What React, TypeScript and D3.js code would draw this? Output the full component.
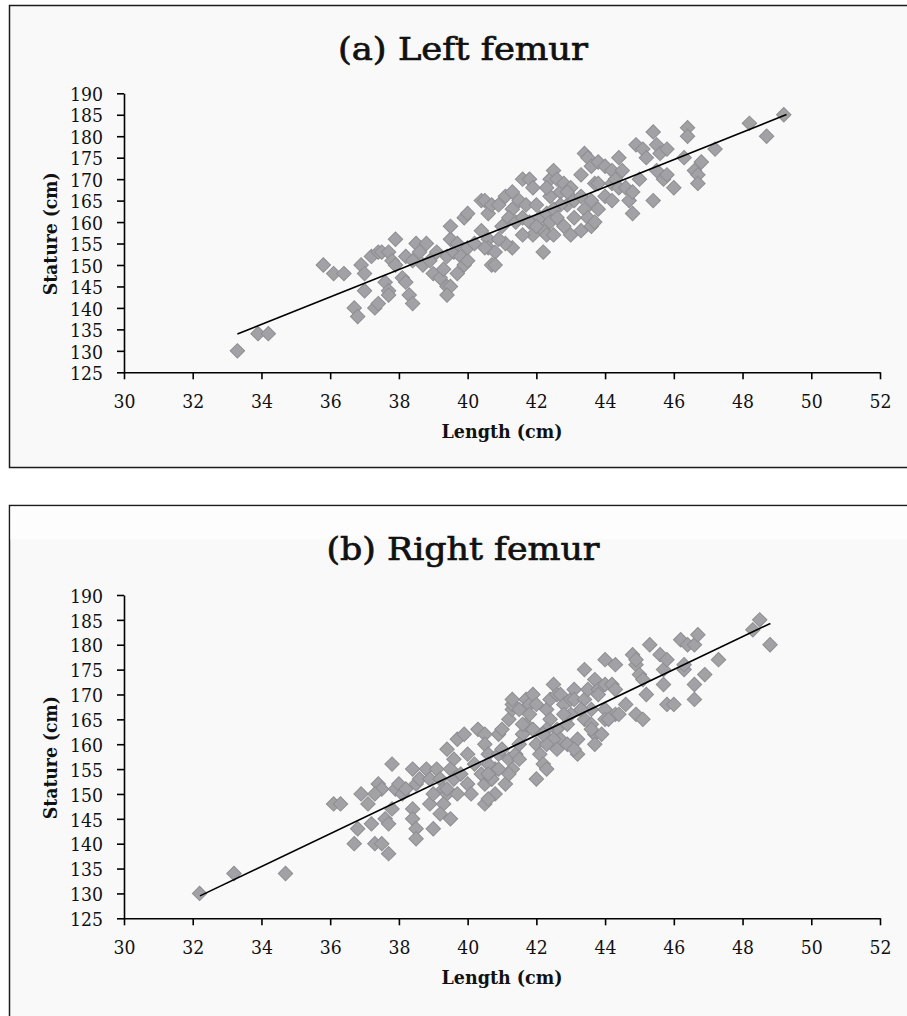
import React, { useEffect, useRef } from "react";
import * as d3 from "d3";

// axis ticks
const xTicks = [30, 32, 34, 36, 38, 40, 42, 44, 46, 48, 50, 52];
const yTicks = [125, 130, 135, 140, 145, 150, 155, 160, 165, 170, 175, 180, 185, 190];

// [length (cm), stature (cm)]
const leftFemur: [number, number][] = [
  [33.3, 130], [33.9, 134], [34.2, 134],
  [35.8, 150], [36.1, 148], [36.4, 148],
  [36.7, 140], [36.8, 138], [36.9, 150], [37.0, 148], [37.0, 144], [37.2, 152], [37.3, 140], [37.4, 141],
  [37.4, 153], [37.5, 153], [37.7, 153], [37.6, 146], [37.7, 144], [37.7, 143], [37.8, 151], [37.9, 150],
  [37.9, 156], [38.1, 147], [38.2, 146], [38.3, 143], [38.4, 141], [38.2, 152], [38.4, 151], [38.5, 155],
  [38.6, 153], [38.7, 150], [38.8, 155], [38.9, 151], [39.0, 148], [39.1, 153], [39.2, 147], [39.3, 149],
  [39.4, 152], [39.6, 153], [39.8, 152], [39.5, 156], [39.7, 155], [39.5, 159], [39.4, 145], [39.5, 145],
  [39.4, 143], [39.7, 148], [39.9, 150], [40.0, 151], [40.0, 154], [40.2, 155], [39.9, 161], [40.0, 162],
  [40.4, 165], [40.6, 162], [40.4, 158], [40.6, 156], [40.6, 154], [40.7, 150], [40.8, 153], [40.8, 150],
  [40.5, 154], [40.5, 165], [40.7, 164],
  [40.9, 164], [41.1, 166], [41.3, 167], [41.3, 163], [41.5, 165], [41.6, 170], [41.8, 170], [41.9, 168],
  [41.7, 164], [42.0, 164], [42.1, 161], [42.3, 162], [42.4, 170], [42.5, 172], [42.6, 170], [42.4, 166],
  [42.7, 167], [42.8, 169], [43.0, 168], [42.9, 164], [43.1, 165], [43.3, 171], [43.4, 176], [43.5, 175],
  [43.6, 173], [43.8, 174], [44.0, 173], [43.7, 169], [43.8, 169], [44.0, 166], [43.3, 166], [43.4, 163],
  [43.5, 161], [43.3, 158], [43.6, 159], [43.7, 160], [42.2, 158], [42.3, 157], [42.2, 153], [41.9, 157],
  [41.6, 157], [41.3, 154], [41.1, 155], [40.9, 156],
  [41.2, 161], [41.0, 159], [41.4, 160], [41.6, 161], [41.8, 160], [42.0, 159], [42.4, 160], [42.7, 164],
  [42.5, 163], [43.1, 161], [42.9, 167], [44.2, 169], [43.8, 163], [43.6, 165], [42.3, 168],
  [42.8, 159], [43.0, 157], [42.5, 157], [42.6, 161],
  [44.2, 172], [44.3, 170], [44.5, 172], [44.4, 168], [44.2, 165], [44.6, 168], [44.7, 165], [44.8, 167],
  [45.0, 170], [44.8, 162], [45.4, 165], [44.9, 178], [45.1, 177], [45.2, 175], [45.4, 181], [45.5, 178],
  [45.6, 176], [45.8, 177], [45.5, 172], [45.7, 170], [46.0, 168], [45.8, 171], [46.3, 175], [46.4, 182],
  [46.4, 180], [46.6, 172], [46.7, 171], [44.4, 175],
  [46.7, 169], [46.8, 174], [47.2, 177], [48.2, 183], [48.7, 180], [49.2, 185],
];

const rightFemur: [number, number][] = [
  [32.2, 130], [33.2, 134], [34.7, 134],
  [36.1, 148], [36.3, 148], [36.7, 140], [36.8, 143], [36.9, 150], [37.1, 148], [37.2, 144], [37.3, 140],
  [37.5, 140], [37.4, 152], [37.5, 151], [37.3, 150], [37.6, 145], [37.7, 144], [37.7, 138], [37.8, 156],
  [37.8, 147], [37.9, 151], [38.0, 152], [38.1, 150], [38.2, 151], [38.4, 155], [38.5, 152], [38.4, 147],
  [38.4, 145], [38.5, 143], [38.5, 141], [38.6, 153], [38.8, 155], [38.9, 153], [38.9, 148], [39.0, 150],
  [39.0, 143], [39.1, 155], [39.2, 153], [39.3, 151], [39.4, 150], [39.3, 148], [39.2, 146], [39.5, 145],
  [39.4, 159], [39.6, 157], [39.5, 155], [39.6, 153], [39.4, 151], [39.7, 161], [39.9, 162], [40.0, 158],
  [39.8, 154], [40.0, 152], [40.1, 150], [39.7, 150], [40.3, 163], [40.5, 162], [40.5, 160], [40.6, 158],
  [40.4, 154], [40.5, 152], [40.8, 150], [40.8, 155], [40.9, 162], [40.5, 148], [40.6, 149], [40.7, 153],
  [40.9, 158], [40.6, 156],
  [41.0, 163], [41.0, 159], [41.2, 157], [41.3, 155], [41.1, 152], [41.2, 154], [40.9, 155], [41.2, 165],
  [41.3, 167], [41.3, 168], [41.3, 169], [41.5, 167], [41.4, 158], [41.5, 157], [41.6, 162], [41.7, 164],
  [41.7, 169], [41.8, 168], [41.9, 170], [42.0, 168], [41.8, 166], [41.6, 164], [41.9, 163], [42.0, 160],
  [42.1, 158], [42.2, 156], [42.0, 153], [42.3, 155], [42.3, 167], [42.4, 169], [42.5, 172], [42.6, 170],
  [42.7, 170], [42.4, 165], [42.6, 163], [42.8, 168], [42.7, 161], [42.5, 161], [42.3, 160], [42.6, 159],
  [42.9, 160], [43.0, 169], [43.1, 171], [43.1, 169], [42.9, 164], [43.0, 166], [43.2, 161], [43.2, 158],
  [43.1, 159], [43.4, 169], [43.5, 171], [43.4, 165], [43.4, 175], [43.6, 167], [43.6, 164], [43.7, 162],
  [43.7, 160], [43.6, 163], [43.7, 173], [43.8, 171], [43.9, 162], [44.0, 167], [44.0, 165], [44.0, 177],
  [44.0, 172], [44.2, 172], [44.3, 171], [44.3, 176], [44.3, 166], [44.1, 165], [44.4, 166], [44.6, 168],
  [44.8, 178], [44.9, 176], [44.9, 177], [45.0, 174], [44.9, 166], [45.1, 165], [45.1, 173], [45.2, 170],
  [45.3, 180], [45.6, 178], [45.7, 175], [45.7, 172], [45.8, 177], [45.8, 168], [46.0, 168], [46.2, 181],
  [46.4, 180], [46.6, 180], [46.3, 175], [46.3, 176], [46.6, 172], [46.6, 169], [46.7, 182], [46.9, 174],
  [47.3, 177], [48.3, 183], [48.5, 185], [48.8, 180],
  [40.7, 153], [40.6, 154], [41.5, 160], [42.3, 163], [43.3, 167], [42.8, 166], [43.8, 170], [42.2, 162],
  [40.2, 156],
];

// linear fits: stature = slope * length + intercept, drawn over [from, to]
const leftFit = { slope: 3.2, intercept: 27.34, from: 33.3, to: 49.28 };
const rightFit = { slope: 3.3, intercept: 23.21, from: 32.21, to: 48.81 };

type Fit = { slope: number; intercept: number; from: number; to: number };

type PanelProps = {
  title: string;
  titleWidth: number;
  data: [number, number][];
  fit: Fit;
  boxTop: number;
  boxHeight: number;
  y190: number;
  y125: number;
  band?: boolean;
};

const serif = "'DejaVu Serif', serif";

function drawPanel(svg: d3.Selection<SVGSVGElement, unknown, null, undefined>, p: PanelProps) {
  const g = svg.append("g");

  g.append("rect")
    .attr("x", 9.5)
    .attr("y", p.boxTop + 0.5)
    .attr("width", 920)
    .attr("height", p.boxHeight)
    .attr("fill", "#f9f9f9")
    .attr("stroke", "#1c1c1c")
    .attr("stroke-width", 1.5);

  if (p.band) {
    g.append("rect")
      .attr("x", 10.5)
      .attr("y", p.boxTop + 1.5)
      .attr("width", 920)
      .attr("height", 33)
      .attr("fill", "#fdfdfd");
  }

  const x = d3.scaleLinear().domain([30, 52]).range([124, 880]);
  const y = d3.scaleLinear().domain([125, 190]).range([p.y125, p.y190]);

  // title
  g.append("text")
    .attr("x", 463)
    .attr("y", p.boxTop + 55)
    .attr("text-anchor", "middle")
    .attr("font-family", serif)
    .attr("font-size", 31)
    .attr("textLength", p.titleWidth)
    .attr("lengthAdjust", "spacingAndGlyphs")
    .attr("fill", "#111")
    .attr("stroke", "#111")
    .attr("stroke-width", 0.7)
    .text(p.title);

  // x axis
  const gx = g.append("g")
    .attr("transform", `translate(0,${p.y125})`)
    .call(d3.axisBottom(x).tickValues(xTicks).tickSize(7).tickSizeOuter(0).tickFormat(d3.format("d")));
  gx.selectAll("path, line").attr("stroke", "#000").attr("stroke-width", 1.6);
  gx.selectAll<SVGTextElement, number>("text")
    .attr("y", 36)
    .attr("dy", 0)
    .attr("font-family", serif)
    .attr("font-size", 19)
    .attr("textLength", 22)
    .attr("lengthAdjust", "spacingAndGlyphs")
    .attr("fill", "#111");

  // y axis
  const gy = g.append("g")
    .attr("transform", "translate(124,0)")
    .call(d3.axisLeft(y).tickValues(yTicks).tickSize(7).tickSizeOuter(0).tickFormat(d3.format("d")));
  gy.selectAll("path, line").attr("stroke", "#000").attr("stroke-width", 1.6);
  gy.selectAll("text")
    .attr("x", -21)
    .attr("dy", "0.38em")
    .attr("font-family", serif)
    .attr("font-size", 19)
    .attr("textLength", 33)
    .attr("lengthAdjust", "spacingAndGlyphs")
    .attr("fill", "#111");
  gx.select(".domain").raise();

  // axis titles
  g.append("text")
    .attr("x", 502)
    .attr("y", p.y125 + 66)
    .attr("text-anchor", "middle")
    .attr("font-family", serif)
    .attr("font-weight", "bold")
    .attr("font-size", 18)
    .attr("textLength", 121)
    .attr("lengthAdjust", "spacingAndGlyphs")
    .attr("fill", "#111")
    .text("Length (cm)");

  g.append("text")
    .attr("transform", `translate(57,${(p.y125 + p.y190) / 2 + 1}) rotate(-90)`)
    .attr("text-anchor", "middle")
    .attr("font-family", serif)
    .attr("font-weight", "bold")
    .attr("font-size", 18)
    .attr("textLength", 123)
    .attr("lengthAdjust", "spacingAndGlyphs")
    .attr("fill", "#111")
    .text("Stature (cm)");

  // points
  const diamond = d3.symbol().type(d3.symbolSquare).size(104)();
  g.append("g")
    .selectAll("path")
    .data(p.data)
    .join("path")
    .attr("d", diamond)
    .attr("transform", (d) => `translate(${x(d[0])},${y(d[1])}) rotate(45)`)
    .attr("fill", "#a2a2a6")
    .attr("stroke", "#8e8e92")
    .attr("stroke-width", 1);

  // trend line
  const line = d3.line<number>()
    .x((v) => x(v))
    .y((v) => y(p.fit.slope * v + p.fit.intercept));
  g.append("path")
    .attr("d", line([p.fit.from, p.fit.to]))
    .attr("fill", "none")
    .attr("stroke", "#000")
    .attr("stroke-width", 1.6);
}

export default function App() {
  const ref = useRef<SVGSVGElement>(null);

  useEffect(() => {
    const svg = d3.select(ref.current as SVGSVGElement);
    svg.selectAll("*").remove();

    drawPanel(svg, {
      title: "(a) Left femur",
      titleWidth: 250,
      data: leftFemur,
      fit: leftFit,
      boxTop: 5,
      boxHeight: 462,
      y190: 93.3,
      y125: 372.3,
    });

    drawPanel(svg, {
      title: "(b) Right femur",
      titleWidth: 273,
      data: rightFemur,
      fit: rightFit,
      boxTop: 505,
      boxHeight: 530,
      y190: 595,
      y125: 918.3,
      band: true,
    });
  }, []);

  return (
    <div style={{ position: "absolute", left: 0, top: 0, background: "#fff" }}>
      <svg ref={ref} width={907} height={1016} style={{ display: "block" }} />
    </div>
  );
}
